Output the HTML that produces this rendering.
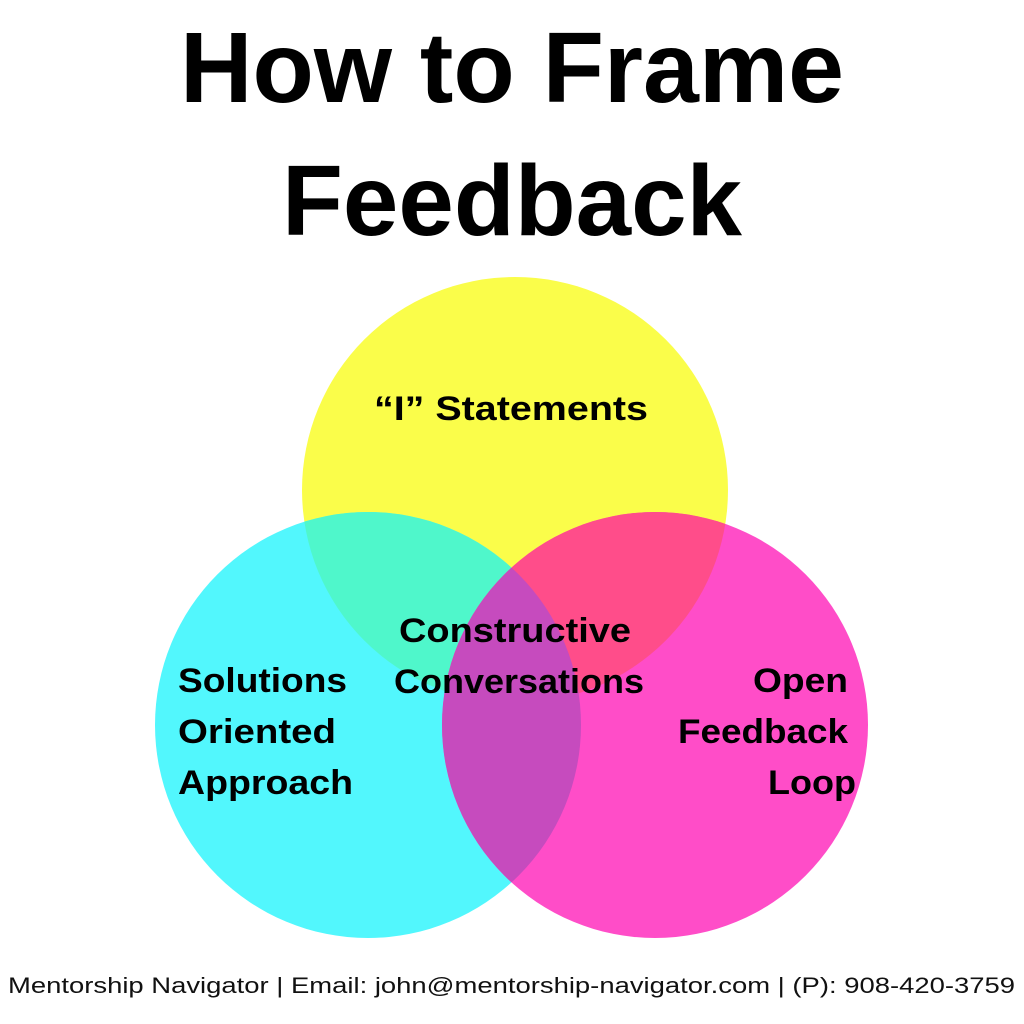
<!DOCTYPE html>
<html><head><meta charset="utf-8"><style>html,body{margin:0;padding:0;background:#fff}svg{display:block}</style></head>
<body>
<svg width="1024" height="1024" viewBox="0 0 1024 1024" xmlns="http://www.w3.org/2000/svg" font-family="Liberation Sans, sans-serif">
<defs>
<clipPath id="cy"><circle cx="515" cy="490" r="213"/></clipPath>
<clipPath id="cc"><circle cx="368" cy="725" r="213"/></clipPath>
</defs>
<rect width="1024" height="1024" fill="#fff"/>
<text x="512" y="102" font-size="100" font-weight="bold" text-anchor="middle" textLength="664" lengthAdjust="spacingAndGlyphs">How to Frame</text>
<text x="512" y="235" font-size="100" font-weight="bold" text-anchor="middle" textLength="460" lengthAdjust="spacingAndGlyphs">Feedback</text>
<circle cx="515" cy="490" r="213" fill="#FAFD4A"/>
<circle cx="368" cy="725" r="213" fill="#52F7FD"/>
<circle cx="655" cy="725" r="213" fill="#FF4DC8"/>
<circle cx="368" cy="725" r="213" fill="#4FF7CB" clip-path="url(#cy)"/>
<circle cx="655" cy="725" r="213" fill="#FF4D8A" clip-path="url(#cy)"/>
<circle cx="655" cy="725" r="213" fill="#C64BBE" clip-path="url(#cc)"/>
<g font-size="34" font-weight="bold" fill="#000">
<text x="374" y="420" textLength="274" lengthAdjust="spacingAndGlyphs">“I” Statements</text>
<text x="399" y="642" textLength="232" lengthAdjust="spacingAndGlyphs">Constructive</text>
<text x="394" y="693" textLength="250" lengthAdjust="spacingAndGlyphs">Conversations</text>
<text x="178" y="692" textLength="169" lengthAdjust="spacingAndGlyphs">Solutions</text>
<text x="178" y="743" textLength="158" lengthAdjust="spacingAndGlyphs">Oriented</text>
<text x="178" y="794" textLength="175" lengthAdjust="spacingAndGlyphs">Approach</text>
<text x="848" y="692" text-anchor="end" textLength="95" lengthAdjust="spacingAndGlyphs">Open</text>
<text x="848" y="743" text-anchor="end" textLength="170" lengthAdjust="spacingAndGlyphs">Feedback</text>
<text x="856" y="794" text-anchor="end" textLength="88" lengthAdjust="spacingAndGlyphs">Loop</text>
</g>
<text x="8" y="993" font-size="22" fill="#111" textLength="1007" lengthAdjust="spacingAndGlyphs">Mentorship Navigator | Email: john@mentorship-navigator.com | (P): 908-420-3759</text>
</svg>
</body></html>
